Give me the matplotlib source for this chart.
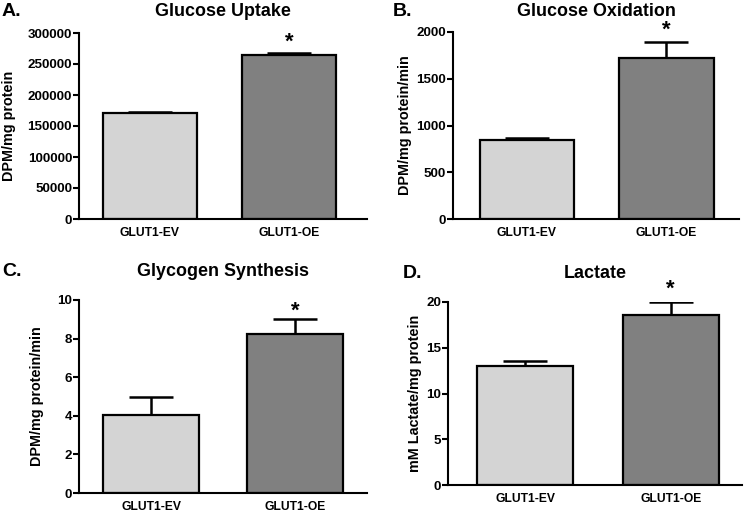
import matplotlib
matplotlib.use("Agg")
import matplotlib.pyplot as plt

plt.rcParams['font.family'] = ['Liberation Sans', 'DejaVu Sans']
plt.rcParams['font.weight'] = 'bold'

groups = ["GLUT1-EV", "GLUT1-OE"]
colors = ["#d4d4d4", "#808080"]

uptake_mean = [171000, 264500]
uptake_sem = [2000, 3000]
oxid_mean = [846, 1721]
oxid_sem = [20, 175]
glyco_mean = [4.02, 8.24]
glyco_sem = [0.95, 0.76]
lact_mean = [13.0, 18.57]
lact_sem = [0.5, 1.4]

titles = ["Glucose Uptake", "Glucose Oxidation", "Glycogen Synthesis", "Lactate"]
letters = ["A.", "B.", "C.", "D."]
ylabels = ["DPM/mg protein", "DPM/mg protein/min", "DPM/mg protein/min", "mM Lactate/mg protein"]
yticks = [[0, 50000, 100000, 150000, 200000, 250000, 300000],
          [0, 500, 1000, 1500, 2000],
          [0, 2, 4, 6, 8, 10],
          [0, 5, 10, 15, 20]]

W, H = 745, 514
fig = plt.figure(figsize=(W / 100, H / 100), dpi=100)

# pixel boxes: left, right, bottom, top
boxes = [(79, 367, 219, 33), (453, 739, 219, 32), (79, 367, 493, 300), (448, 742, 485, 302)]
xlims = [(-0.51, 1.56), (-0.53, 1.52), (-0.50, 1.50), (-0.53, 1.49)]
widths = [0.68, 0.68, 0.67, 0.66]
title_y = [11, 12, 272, 273]
letter_x = [2, 393, 2, 403]
ylabel_x = [9, 405, 37, 415]
star_off = [0.5, 0.5, -1.5, 1.5]

means = [uptake_mean, oxid_mean, glyco_mean, lact_mean]
sems = [uptake_sem, oxid_sem, glyco_sem, lact_sem]

for i in range(4):
    l, r, b, t = boxes[i]
    ax = fig.add_axes([l / W, (H - b) / H, (r - l) / W, (b - t) / H])
    x = [0, 1]
    ax.bar(x, means[i], width=widths[i], color=colors, edgecolor="black", linewidth=1.6, zorder=2)
    ax.errorbar(x, means[i], yerr=[[0, 0], sems[i]], fmt="none", ecolor="black",
                elinewidth=1.8, capsize=16, capthick=1.8, zorder=1)
    top = means[i][1] + sems[i][1]
    ax.annotate("*", xy=(1, top), xytext=(0, star_off[i]), textcoords="offset points",
                ha="center", va="bottom", fontsize=16, fontweight="bold",
                annotation_clip=False)
    ax.set_xlim(*xlims[i])
    ax.set_ylim(0, yticks[i][-1])
    ax.set_yticks(yticks[i])
    ax.set_xticks(x)
    ax.set_xticklabels(groups, fontsize=8.7, fontweight="bold")
    ax.tick_params(axis="x", length=0, pad=6)
    ax.tick_params(axis="y", length=4, width=1.5, labelsize=9.6, pad=1)
    for lab in ax.get_yticklabels():
        lab.set_fontweight("bold")
    for s in ["top", "right"]:
        ax.spines[s].set_visible(False)
    for s in ["left", "bottom"]:
        ax.spines[s].set_linewidth(1.5)
    cx = (l + r) / 2
    fig.text(cx / W, 1 - title_y[i] / H, titles[i], ha="center", va="center",
             fontsize=12.9, fontweight="bold")
    fig.text(letter_x[i] / W, 1 - title_y[i] / H, letters[i], ha="left", va="center",
             fontsize=14, fontweight="bold")
    fig.text(ylabel_x[i] / W, 1 - ((b + t) / 2) / H, ylabels[i], rotation=90,
             ha="center", va="center", fontsize=10.4, fontweight="bold")

fig.savefig("out.png", dpi=100)
